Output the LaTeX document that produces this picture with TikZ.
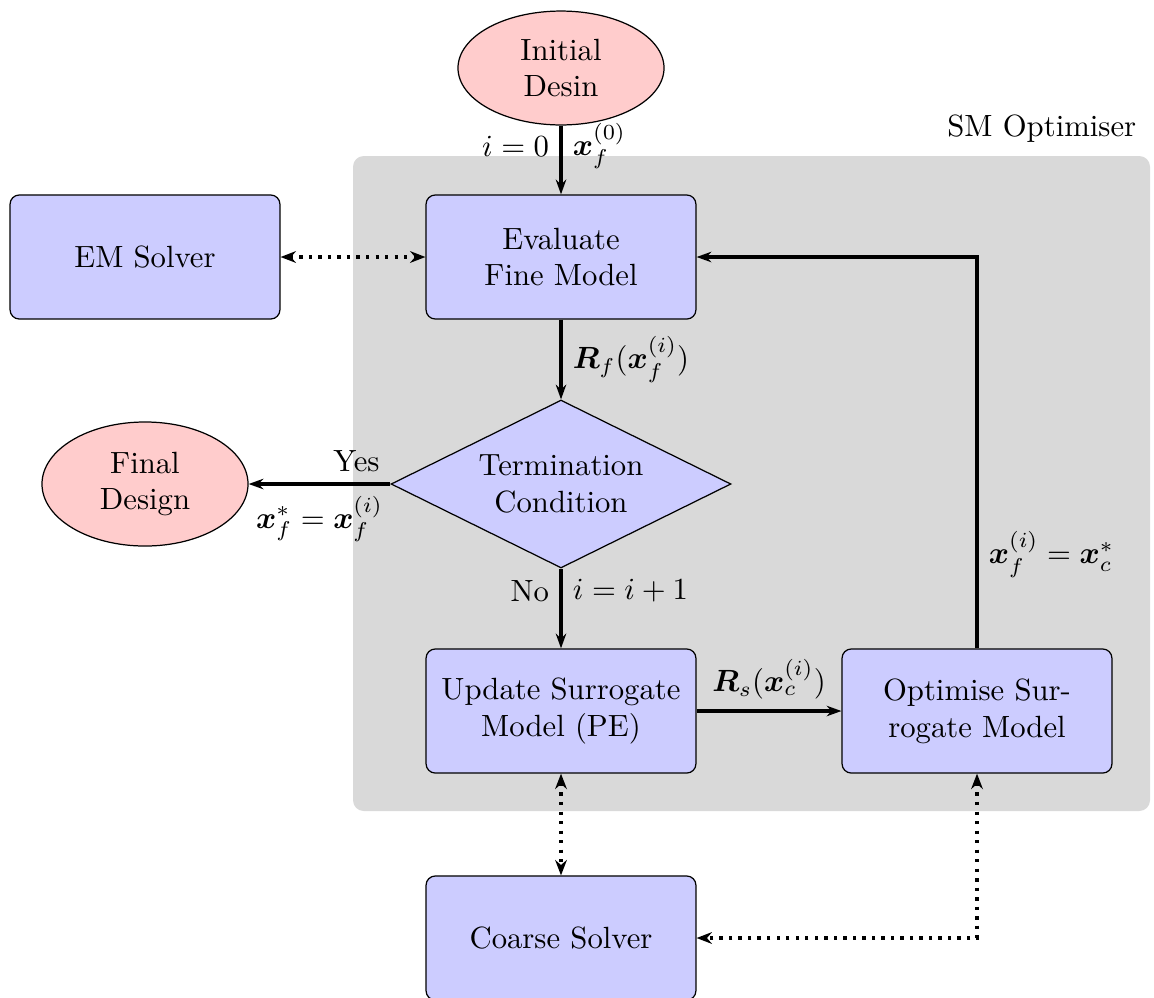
\documentclass[tikz,border=0pt]{standalone}
\usepackage{amsmath}
\usepackage{bm}
\usetikzlibrary{shapes.geometric,arrows.meta}
\begin{document}
\begin{tikzpicture}[x=0.3257pt,y=-0.3257pt,
  blk/.style={draw, rounded corners=3pt, fill=blue!20, align=center,
    minimum width=87.9pt, minimum height=40.4pt, inner sep=2pt},
  term/.style={draw, ellipse, fill=red!20, align=center,
    minimum width=67.1pt, inner sep=1pt},
  cond/.style={draw, diamond, fill=blue!20, align=center, shape aspect=2,
    minimum width=110.7pt, minimum height=54.7pt, inner sep=0pt},
  flow/.style={line width=1.1pt, -{Stealth[length=4.8pt,width=3.4pt]}},
  link/.style={line width=1.1pt, dotted,
    {Stealth[length=5pt,width=3.8pt]}-{Stealth[length=5pt,width=3.8pt]}}
]
\useasboundingbox (0,0) rectangle (1154,997);

% optimiser frame
\fill[gray!30, rounded corners=3.5pt] (353,156) rectangle (1150,811);
\node[anchor=east] (smlabel) at (1147,129) {SM Optimiser};

% nodes
\node[term, minimum height=37.1pt] (init) at (561,68) {Initial\\Desin};
\node[blk] (eval) at (561,257) {Evaluate\\Fine Model};
\node[blk] (em) at (145,257) {EM Solver};
\node[cond] (cond) at (561,484) {Termination\\Condition};
\node[term, minimum height=40.4pt] (final) at (145,484) {Final\\Design};
\node[blk] (upd) at (561,711) {Update Surrogate\\Model (PE)};
\node[blk] (opt) at (977,711) {Optimise Sur-\\rogate Model};
\node[blk] (coarse) at (561,938) {Coarse Solver};

% main flow
\draw[flow] (init) -- (eval)
  node[pos=0.3, left] {$i=0$}
  node[pos=0.3, right] {$\bm{x}_f^{(0)}$};
\draw[flow] (eval) -- (cond)
  node[midway, right] {$\bm{R}_f(\bm{x}_f^{(i)})$};
\draw[flow] (cond) -- (final)
  node[pos=0.24, above] {Yes}
  node[pos=0.5, below] {$\bm{x}_f^{*}=\bm{x}_f^{(i)}$};
\draw[flow] (cond) -- (upd)
  node[pos=0.28, left] {No}
  node[pos=0.28, right] {$i=i+1$};
\draw[flow] (upd) -- (opt)
  node[midway, above] {$\bm{R}_s(\bm{x}_c^{(i)})$};
\draw[flow] (opt.north) |- (eval.east)
  node[pos=0.12, right] {$\bm{x}_f^{(i)}=\bm{x}_c^{*}$};

% solver links
\draw[link] (em) -- (eval);
\draw[link] (upd) -- (coarse);
\draw[link] (opt.south) |- (coarse.east);
\end{tikzpicture}
\end{document}
